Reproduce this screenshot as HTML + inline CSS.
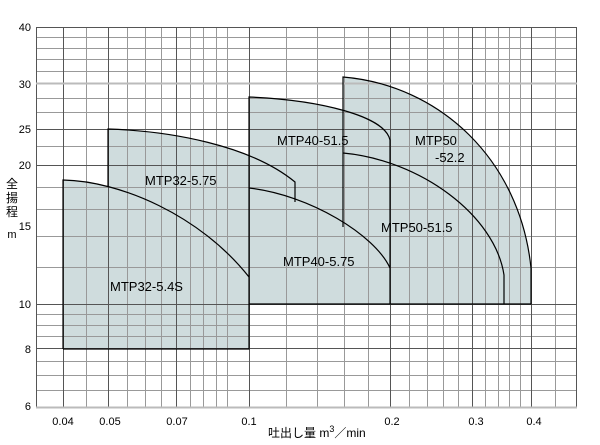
<!DOCTYPE html>
<html><head><meta charset="utf-8"><style>
html,body{margin:0;padding:0;background:#fff;}
svg{display:block;font-family:"Liberation Sans","Noto Sans CJK JP",sans-serif;}
</style></head><body>
<svg width="600" height="445" viewBox="0 0 600 445" xmlns="http://www.w3.org/2000/svg">
<rect width="600" height="445" fill="#fff"/>
<g fill="#cfdcdd" stroke="none">
<path d="M63,180 C120,181 200,215 249,277 L249,349 L63,349 Z"/>
<path d="M108,129 C170,131 250,145 295,182 L295,202 L249,210 L249,349 L108,349 Z"/>
<path d="M249,97 C320,100 385,116 390,140 L390,304 L249,304 Z"/>
<path d="M343,77 C440,85 520,160 531,268 L531,304 L343,304 Z"/>
</g>
<g stroke="#999" stroke-width="1">
<path d="M86.5,27V408 M127.5,27V408 M145.5,27V408 M161.5,27V408 M190.5,27V408 M203.5,27V408 M216.5,27V408 M227.5,27V408 M286.5,27V408 M317.5,27V408 M344.5,27V408 M368.5,27V408 M409.5,27V408 M427.5,27V408 M443.5,27V408 M458.5,27V408 M485.5,27V408 M498.5,27V408 M509.5,27V408 M520.5,27V408 M555.5,27V408"/>
<path d="M36,37.5H577 M36,48.5H577 M36,59.5H577 M36,71.5H577 M36,98.5H577 M36,112.5H577 M36,146.5H577 M36,187.5H577 M36,209.5H577 M36,236.5H577 M36,267.5H577 M36,314.5H577 M36,325.5H577 M36,336.5H577 M36,361.5H577 M36,375.5H577 M36,390.5H577"/>
</g>
<g stroke="#555" stroke-width="1">
<path d="M63.5,27V408 M108.5,27V408 M176.5,27V408 M249.5,27V408 M390.5,27V408 M472.5,27V408 M531.5,27V408"/>
<path d="M36,129.5H577 M36,165.5H577 M36,304.5H577 M36,348.5H577"/>
<path d="M36.5,27V408 M576.5,27V408 M36,27.5H577"/>
</g>
<path d="M36,83.5H577" stroke="#bbb" stroke-width="2"/>
<path d="M36,407.5H577" stroke="#bbb" stroke-width="2"/>
<g fill="none" stroke="#000" stroke-width="1.2">
<path d="M63,349 L63,180 C120,181 200,215 249,277"/>
<path d="M63,349 H249 V97 C320,100 385,116 390,140 L390,304"/>
<path d="M108,187 V129 C170,131 250,145 295,182 L295,202"/>
<path d="M249,188 C310,195 375,235 390,268"/>
<path d="M343,227 V77 C440,85 520,160 531,268 L531,304 H249"/>
<path d="M343,153 C420,160 495,215 504,275 L504,304"/>
</g>
<g font-size="13" fill="#000">
<text x="145" y="185">MTP32-5.75</text>
<text x="110" y="291">MTP32-5.4S</text>
<text x="277" y="145">MTP40-51.5</text>
<text x="415" y="145">MTP50</text>
<text x="435" y="162">-52.2</text>
<text x="381" y="232">MTP50-51.5</text>
<text x="283" y="266">MTP40-5.75</text>
</g>
<g font-size="11" fill="#000" text-anchor="end">
<text x="31" y="31">40</text>
<text x="31" y="88">30</text>
<text x="31" y="133">25</text>
<text x="31" y="169">20</text>
<text x="31" y="230">15</text>
<text x="31" y="308">10</text>
<text x="31" y="353">8</text>
<text x="31" y="410">6</text>
</g>
<g font-size="11" fill="#000" text-anchor="middle">
<text x="63" y="425">0.04</text>
<text x="110" y="425">0.05</text>
<text x="177" y="425">0.07</text>
<text x="249" y="425">0.1</text>
<text x="392" y="425">0.2</text>
<text x="476" y="425">0.3</text>
<text x="534" y="425">0.4</text>
</g>
<text x="268" y="437" font-size="12" fill="#000">吐出し量 m<tspan font-size="9" dy="-5">3</tspan><tspan dy="5">／min</tspan></text>
<g font-size="12" fill="#000" text-anchor="middle">
<text x="12" y="188">全</text>
<text x="12" y="202">揚</text>
<text x="12" y="216">程</text>
<text x="12" y="238" font-size="11">m</text>
</g>
</svg>
</body></html>
